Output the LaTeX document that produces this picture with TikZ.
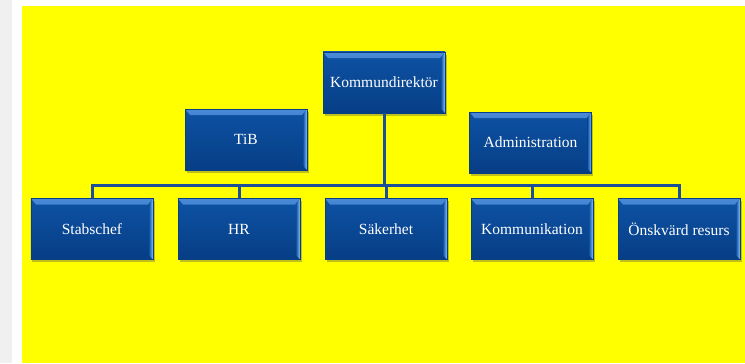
\documentclass[tikz,border=0pt]{standalone}
\usepackage{fontspec}
\setmainfont{Liberation Serif}
\usetikzlibrary{shadows}

\definecolor{bgyellow}{HTML}{FFFF00}
\definecolor{sidegray}{HTML}{F0F0F0}
\definecolor{boxtop}{HTML}{0D52A4}
\definecolor{boxbot}{HTML}{073E85}
\definecolor{boxhi}{HTML}{4A8AD6}
\definecolor{boxedge}{HTML}{8EC2F2}
\definecolor{linkblue}{HTML}{1C5199}

\tikzset{
    orgbox/.style={shape=rectangle, minimum width=122bp, minimum height=61bp,
        top color=boxtop, bottom color=boxbot, draw=boxbot, line width=0.6bp,
        text=white, font=\fontsize{15.5bp}{18bp}\selectfont,
        drop shadow={shadow xshift=1.5bp, shadow yshift=-2.5bp, opacity=0.35, fill=black!70},
        path picture={
            \shade[top color=boxhi, bottom color=boxtop]
                (path picture bounding box.north west) --
                (path picture bounding box.north east) --
                ([xshift=-5bp,yshift=-6bp]path picture bounding box.north east) --
                ([xshift=5bp,yshift=-6bp]path picture bounding box.north west) -- cycle;
            \shade[left color=boxtop, right color=boxedge]
                (path picture bounding box.north east) --
                (path picture bounding box.south east) --
                ([xshift=-4bp,yshift=4bp]path picture bounding box.south east) --
                ([xshift=-4bp,yshift=-6bp]path picture bounding box.north east) -- cycle;
        }},
    link/.style={draw=linkblue, line width=3bp}
}

\begin{document}
\begin{tikzpicture}[x=1bp,y=1bp]
    % background
    \useasboundingbox (0,0) rectangle (745,363);
    \fill[white] (0,0) rectangle (745,363);
    \fill[sidegray] (0,0) rectangle (12,363);
    \fill[bgyellow] (22,0) rectangle (745,357);

    \node[orgbox] (kd) at (384,280.5) {Kommundirektör};
    \node[orgbox] (tib) at (246,223.5) {TiB};
    \node[orgbox] (adm) at (530.5,220.5) {Administration};

    \node[orgbox] (stab) at (92,134) {Stabschef};
    \node[orgbox] (hr) at (239,134) {HR};
    \node[orgbox] (sak) at (386,134) {Säkerhet};
    \node[orgbox] (komm) at (532,134) {Kommunikation};
    \node[orgbox] (onsk) at (679,134) {Önskvärd resurs};

    % connectors to the bus
    \path [link] (kd.south) |- ([yshift=13bp]stab.north) -- (stab.north);
    \path [link] (kd.south) |- ([yshift=13bp]hr.north) -- (hr.north);
    \path [link] (kd.south) |- ([yshift=13bp]sak.north) -- (sak.north);
    \path [link] (kd.south) |- ([yshift=13bp]komm.north) -- (komm.north);
    \path [link] (kd.south) |- ([yshift=13bp]onsk.north) -- (onsk.north);

\end{tikzpicture}
\end{document}
